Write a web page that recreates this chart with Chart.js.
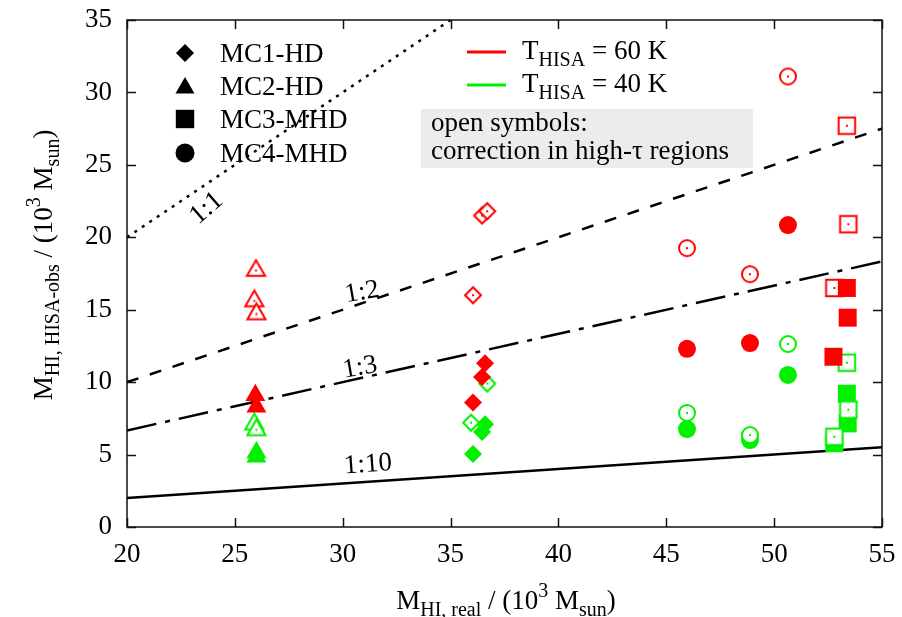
<!DOCTYPE html>
<html>
<head>
<meta charset="utf-8">
<script src="https://cdn.jsdelivr.net/npm/chart.js@4/dist/chart.umd.min.js"></script>
<style>
  body { margin: 0; background: #fff; }
  canvas { display: block; }
</style>
</head>
<body>
<canvas id="myChart" width="902" height="617"></canvas>
<script>
// axis ranges
const xRange = [20, 55];
const yRange = [0, 35];
const tickStep = 5;

// reference lines M_obs = M_real / n
const refNames = ['1:1', '1:2', '1:3', '1:10'];
const refEnds = [
    [[20, 20], [55, 55]],
    [[20, 10], [55, 27.5]],
    [[20, 6.667], [55, 18.333]],
    [[20, 2], [55, 5.5]],
];

// MC1-HD (diamonds)
const mc1Hot = [[36.6, 11.3], [36.46, 10.35], [36.04, 8.6]];
const mc1HotOpen = [[36.04, 16.0], [36.46, 21.5], [36.7, 21.8]];
const mc1Cold = [[36.6, 7.1], [36.46, 6.56], [36.04, 5.04]];
const mc1ColdOpen = [[36.7, 9.9], [35.95, 7.2]];

// MC2-HD (triangles)
const mc2Hot = [[25.95, 9.1], [26.0, 8.3]];
const mc2HotOpen = [[25.98, 17.7], [25.9, 15.6], [26.0, 14.7]];
const mc2Cold = [[26.0, 5.15], [26.0, 4.85]];
const mc2ColdOpen = [[25.9, 7.1], [26.0, 6.7]];

// MC3-MHD (squares)
const mc3Hot = [[53.37, 16.5], [53.41, 14.45], [52.75, 11.75]];
const mc3HotOpen = [[53.37, 27.7], [53.44, 20.9], [52.79, 16.5]];
const mc3Cold = [[53.37, 9.2], [53.41, 7.15], [52.79, 5.78]];
const mc3ColdOpen = [[53.37, 11.34], [53.44, 8.1], [52.79, 6.23]];

// MC4-MHD (circles)
const mc4Hot = [[45.96, 12.3], [48.88, 12.7], [50.64, 20.84]];
const mc4HotOpen = [[45.96, 19.25], [48.88, 17.45], [50.64, 31.1]];
const mc4Cold = [[45.96, 6.76], [48.88, 6.0], [50.64, 10.5]];
const mc4ColdOpen = [[45.96, 7.87], [48.88, 6.35], [50.64, 12.63]];

const modelNames = ['MC1-HD', 'MC2-HD', 'MC3-MHD', 'MC4-MHD'];

const RED = '#ff0000';
const GREEN = '#00f000';
const serif = "'Liberation Serif', 'Times New Roman', serif";

const shapes = [
    { style: 'rectRot', r: 9 },
    { style: 'triangle', r: 11.5 },
    { style: 'rect', r: 12.7 },
    { style: 'circle', r: 9 },
];

const pts = arr => arr.map(p => ({ x: p[0], y: p[1] }));

// open symbol: white inside, coloured rim, small dot in the middle
function openSymbol(shape, color) {
    const s = Math.ceil(shape.r * 2 + 6);
    const c = document.createElement('canvas');
    c.width = s; c.height = s;
    const g = c.getContext('2d');
    g.fillStyle = '#fff';
    g.strokeStyle = color;
    g.lineWidth = 2;
    Chart.helpers.drawPoint(g, { pointStyle: shape.style, radius: shape.r - 1, rotation: 0, borderWidth: 2 }, s / 2, s / 2);
    g.fillStyle = color;
    g.fillRect(s / 2 - 1, s / 2 - 1, 2, 2);
    return c;
}

function filledSet(data, i, color) {
    return {
        type: 'scatter', data: pts(data),
        pointStyle: shapes[i].style, pointRadius: shapes[i].r, pointHoverRadius: shapes[i].r,
        backgroundColor: color, borderColor: color, borderWidth: 0,
    };
}

function openSet(data, i, color) {
    const img = openSymbol(shapes[i], color);
    return {
        type: 'scatter', data: pts(data),
        pointStyle: img, pointRadius: shapes[i].r, borderWidth: 0,
    };
}

const dashes = [[3, 6], [12, 12], [30, 9, 5, 9], []];
const refSets = refEnds.map((e, i) => ({
    type: 'line', data: pts(e), showLine: true, pointRadius: 0,
    borderColor: '#000', borderWidth: 2.5, borderDash: dashes[i], fill: false,
}));

// bottom to top
const drawOrder = [
    ...refSets,
    filledSet(mc1Cold, 0, GREEN), filledSet(mc2Cold, 1, GREEN), filledSet(mc3Cold, 2, GREEN), filledSet(mc4Cold, 3, GREEN),
    openSet(mc1ColdOpen, 0, GREEN), openSet(mc2ColdOpen, 1, GREEN), openSet(mc3ColdOpen, 2, GREEN), openSet(mc4ColdOpen, 3, GREEN),
    openSet(mc1HotOpen, 0, RED), openSet(mc2HotOpen, 1, RED), openSet(mc3HotOpen, 2, RED), openSet(mc4HotOpen, 3, RED),
    filledSet(mc1Hot, 0, RED), filledSet(mc2Hot, 1, RED), filledSet(mc3Hot, 2, RED), filledSet(mc4Hot, 3, RED),
];
drawOrder.forEach((d, i) => { d.order = drawOrder.length - i; });

// label spots for the ratio lines (data coords) and rotation
const refLabelAt = [[23.69, 22.0, -41], [30.9, 16.2, -10], [30.8, 11.0, -10], [31.17, 4.3, -4]];

function richText(ctx, parts, x, y, center) {
    const fontOf = k => (k ? '20px ' : '27px ') + serif;
    let w = 0;
    parts.forEach(([t, k]) => { ctx.font = fontOf(k); w += ctx.measureText(t).width; });
    let cx = center ? x - w / 2 : x;
    parts.forEach(([t, k]) => {
        ctx.font = fontOf(k);
        const dy = k === 'sub' ? 7 : k === 'sup' ? -12 : 0;
        ctx.fillText(t, cx, y + dy);
        cx += ctx.measureText(t).width;
    });
}

const decor = {
    id: 'decor',
    afterDraw(chart) {
        const { ctx, chartArea: a, scales: { x, y } } = chart;
        ctx.save();

        // frame and inward ticks
        ctx.strokeStyle = '#111';
        ctx.lineWidth = 1.5;
        ctx.strokeRect(a.left, a.top, a.right - a.left, a.bottom - a.top);
        ctx.beginPath();
        x.ticks.forEach(t => {
            const px = Math.round(x.getPixelForValue(t.value)) + 0.5;
            ctx.moveTo(px, a.bottom); ctx.lineTo(px, a.bottom - 9);
            ctx.moveTo(px, a.top); ctx.lineTo(px, a.top + 9);
        });
        y.ticks.forEach(t => {
            const py = Math.round(y.getPixelForValue(t.value)) + 0.5;
            ctx.moveTo(a.left, py); ctx.lineTo(a.left + 9, py);
            ctx.moveTo(a.right, py); ctx.lineTo(a.right - 9, py);
        });
        ctx.stroke();

        ctx.fillStyle = '#000';

        // ratio labels
        ctx.font = '27px ' + serif;
        ctx.textAlign = 'center';
        ctx.textBaseline = 'middle';
        refNames.forEach((n, i) => {
            const [lx, ly, rot] = refLabelAt[i];
            ctx.save();
            ctx.translate(x.getPixelForValue(lx), y.getPixelForValue(ly));
            ctx.rotate(rot * Math.PI / 180);
            ctx.fillText(n, 0, 0);
            ctx.restore();
        });

        // symbol legend
        ctx.textAlign = 'left';
        ctx.textBaseline = 'alphabetic';
        const legY = [53, 86, 119, 153];
        const legR = [9, 11, 13, 9.5];
        modelNames.forEach((n, i) => {
            ctx.fillStyle = '#000';
            Chart.helpers.drawPoint(ctx, { pointStyle: shapes[i].style, radius: legR[i], rotation: 0, borderWidth: 0 }, 185, legY[i] + (i === 1 ? 2 : 0));
            ctx.font = '27px ' + serif;
            ctx.fillText(n, 220, legY[i] + 9);
        });

        // temperature legend
        [[RED, '60', 52], [GREEN, '40', 85]].forEach(([c, tv, ly]) => {
            ctx.strokeStyle = c;
            ctx.lineWidth = 3;
            ctx.beginPath();
            ctx.moveTo(467, ly); ctx.lineTo(506, ly);
            ctx.stroke();
            ctx.fillStyle = '#000';
            richText(ctx, [['T', ''], ['HISA', 'sub'], [' = ' + tv + ' K', '']], 522, ly + 7, false);
        });

        // note box
        ctx.fillStyle = '#ececec';
        ctx.fillRect(421, 109, 332, 59);
        ctx.fillStyle = '#000';
        ctx.font = '27px ' + serif;
        ctx.fillText('open symbols:', 431, 131);
        ctx.fillText('correction in high-\u03c4 regions', 431, 159);

        // axis titles
        richText(ctx, [['M', ''], ['HI, real', 'sub'], [' / (10', ''], ['3', 'sup'], [' M', ''], ['sun', 'sub'], [')', '']], 506, 609, true);
        ctx.save();
        ctx.translate(52, 265);
        ctx.rotate(-Math.PI / 2);
        richText(ctx, [['M', ''], ['HI, HISA-obs', 'sub'], [' / (10', ''], ['3', 'sup'], [' M', ''], ['sun', 'sub'], [')', '']], 0, 0, true);
        ctx.restore();

        ctx.restore();
    },
};

const tickFont = { family: serif, size: 27 };
const noPad = s => { s.paddingTop = 0; s.paddingBottom = 0; s.paddingLeft = 0; s.paddingRight = 0; };

new Chart(document.getElementById('myChart'), {
    type: 'scatter',
    data: { datasets: drawOrder },
    options: {
        responsive: false,
        animation: false,
        events: [],
        layout: { autoPadding: false, padding: { top: 20, right: 20, left: 0, bottom: 0 } },
        plugins: { legend: { display: false }, tooltip: { enabled: false } },
        scales: {
            x: {
                type: 'linear', min: xRange[0], max: xRange[1],
                ticks: { stepSize: tickStep, font: tickFont, color: '#000', padding: 12 },
                grid: { display: false, drawTicks: false },
                border: { display: false },
                afterFit: s => { s.height = 90; noPad(s); },
            },
            y: {
                type: 'linear', min: yRange[0], max: yRange[1],
                ticks: { stepSize: tickStep, font: tickFont, color: '#000', padding: 15 },
                grid: { display: false, drawTicks: false },
                border: { display: false },
                afterFit: s => { s.width = 127; noPad(s); },
            },
        },
    },
    plugins: [decor],
});
</script>
</body>
</html>
